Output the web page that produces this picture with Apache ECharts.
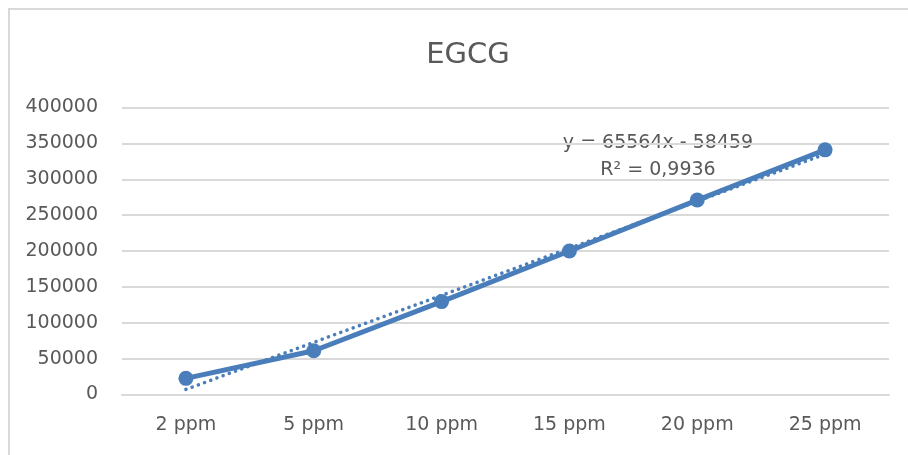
<!DOCTYPE html>
<html>
<head>
<meta charset="utf-8">
<script src="https://cdn.jsdelivr.net/npm/echarts@6/dist/echarts.min.js"></script>
<style>
html,body{margin:0;padding:0;background:#fff;}
#chart{width:908px;height:455px;}
</style>
</head>
<body>
<div id="chart"></div>
<script>
const categories = ['2 ppm', '5 ppm', '10 ppm', '15 ppm', '20 ppm', '25 ppm'];
const egcgValues = [22500, 61000, 129500, 200000, 271000, 341000];
const trendValues = [7100, 72700, 138200, 203800, 269400, 334900];
const trendEquation = 'y = 65564x - 58459';
const trendR2 = 'R² = 0,9936';
const titleText = 'EGCG';

const FONT = 'DejaVu Sans';
const TEXT = '#595959';
const BLUE = '#4a7ebb';

const chart = echarts.init(document.getElementById('chart'), null, {renderer: 'canvas'});
chart.setOption({
  animation: false,
  backgroundColor: '#ffffff',
  title: {
    text: titleText,
    left: 463,
    textAlign: 'center',
    top: 36,
    textStyle: {fontFamily: FONT, fontSize: 29, fontWeight: 'normal', color: TEXT}
  },
  grid: {left: 122, right: 19, top: 107.5, bottom: 60.5, containLabel: false},
  xAxis: {
    type: 'category',
    data: categories,
    boundaryGap: true,
    axisLine: {show: true, lineStyle: {color: '#d9d9d9', width: 2}},
    axisTick: {show: false},
    axisLabel: {fontFamily: FONT, fontSize: 19, color: TEXT, margin: 21}
  },
  yAxis: {
    type: 'value',
    min: 0,
    max: 400000,
    interval: 50000,
    axisLine: {show: false},
    axisTick: {show: false},
    splitLine: {lineStyle: {color: '#d9d9d9', width: 2}},
    axisLabel: {fontFamily: FONT, fontSize: 19, color: TEXT, margin: 24, formatter: v => String(v)}
  },
  series: [
    {
      name: 'Trendline',
      type: 'line',
      data: trendValues,
      symbol: 'none',
      z: 3,
      lineStyle: {color: BLUE, width: 3.5, type: [0.1, 6.5], cap: 'round'}
    },
    {
      name: 'EGCG',
      type: 'line',
      data: egcgValues,
      symbol: 'circle',
      symbolSize: 15,
      z: 4,
      itemStyle: {color: BLUE},
      lineStyle: {color: BLUE, width: 5, cap: 'round', join: 'round'}
    }
  ],
  graphic: [
    {
      type: 'rect',
      silent: true,
      shape: {x: 9, y: 9, width: 960, height: 500},
      style: {fill: 'none', stroke: '#d9d9d9', lineWidth: 2}
    },
    {
      type: 'text',
      x: 658, y: 143,
      style: {text: trendEquation, font: '19px "' + FONT + '"', fill: TEXT, align: 'center', verticalAlign: 'middle'}
    },
    {
      type: 'text',
      x: 658, y: 170,
      style: {text: trendR2, font: '19px "' + FONT + '"', fill: TEXT, align: 'center', verticalAlign: 'middle'}
    }
  ]
});
</script>
</body>
</html>
